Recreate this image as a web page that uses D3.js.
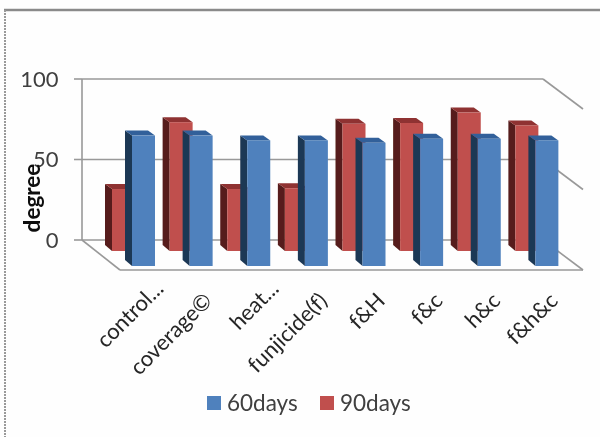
<!DOCTYPE html>
<html><head><meta charset="utf-8">
<script src="https://cdn.jsdelivr.net/npm/d3@7"></script>
<style>html,body{margin:0;padding:0;background:#fff}svg{display:block}text{font-family:Lato,"Open Sans",sans-serif}</style>
</head><body><div id="c"></div>
<script>
const categories = ["control...","coverage©","heat...","funjicide(f)","f&H","f&c","h&c","f&h&c"];
const days60 = [81,81,78,78,76.5,79,79,78];
const days90 = [38.5,80,38.5,39,79,79.5,86,78];
const yTicks = [0,50,100];
const seriesNames = ["60days","90days"];

const W=600,H=437;
const svg=d3.select("#c").append("svg").attr("width",W).attr("height",H);
svg.append("defs").append("filter").attr("id","soft").attr("x","-5%").attr("y","-5%").attr("width","110%").attr("height","110%")
   .append("feGaussianBlur").attr("stdDeviation",0.45);
svg.append("rect").attr("width",W).attr("height",H).attr("fill","#fefefe");
const g=svg.append("g").attr("filter","url(#soft)");
g.append("line").attr("x1",4).attr("x2",W).attr("y1",10).attr("y2",10).attr("stroke","#8a8a8a").attr("stroke-width",2.5);
g.append("line").attr("x1",5).attr("x2",5).attr("y1",10).attr("y2",H).attr("stroke","#9a9a9a").attr("stroke-width",2).attr("stroke-dasharray","2 1");

const x=d3.scaleBand().domain(categories).range([82,543]);
const y=d3.scaleLinear().domain([0,100]).range([240,79]);
const floorDx=40,floorDy=30;
const grid="#999999";
yTicks.forEach(t=>{
  g.append("line").attr("x1",74).attr("x2",82).attr("y1",y(t)).attr("y2",y(t)).attr("stroke",grid).attr("stroke-width",1.6);
  g.append("line").attr("x1",82).attr("x2",x.range()[1]).attr("y1",y(t)).attr("y2",y(t)).attr("stroke",grid).attr("stroke-width",1.6);
  g.append("line").attr("x1",x.range()[1]).attr("x2",x.range()[1]+floorDx).attr("y1",y(t)).attr("y2",y(t)+floorDy).attr("stroke",grid).attr("stroke-width",1.6);
  g.append("text").attr("x",58.5).attr("y",y(t)).attr("dy","0.36em").attr("text-anchor","end").attr("font-size",22).attr("fill","#404040").text(t);
});
g.append("line").attr("x1",82).attr("x2",82).attr("y1",y(0)).attr("y2",y(100)).attr("stroke",grid).attr("stroke-width",1.6);
g.append("line").attr("x1",82).attr("x2",82+floorDx-2).attr("y1",y(0)).attr("y2",y(0)+floorDy).attr("stroke",grid).attr("stroke-width",1.6);
g.append("line").attr("x1",82+floorDx-2).attr("x2",x.range()[1]+floorDx).attr("y1",y(0)+floorDy).attr("y2",y(0)+floorDy).attr("stroke",grid).attr("stroke-width",1.6);

const pxPerUnit=y(0)-y(1);
const dx=7,dy=5,bw=23;
function bars(vals,off,base,cols){
  categories.forEach((c,i)=>{
    const x0=x(c)+off, xf=x0+dx, h=vals[i]*pxPerUnit, top=base-h;
    const bar=g.append("g");
    bar.append("polygon").attr("fill",cols.side).attr("points",[[x0,base-dy-1],[xf,base],[xf,top],[x0,top-dy]].join(" "));
    bar.append("polygon").attr("fill",cols.top).attr("points",[[x0,top-dy],[x0+bw,top-dy],[xf+bw,top],[xf,top]].join(" "));
    bar.append("rect").attr("x",xf).attr("y",top).attr("width",bw).attr("height",h).attr("fill",cols.front);
  });
}
bars(days90,23,251,{front:"#c0504d",side:"#561e1a",top:"#8f3230"});
bars(days60,43,266,{front:"#4f81bd",side:"#1f3855",top:"#31609a"});

categories.forEach(c=>{
  const cut=c.endsWith("...");
  const px=x(c)+x.bandwidth()/2+45+(cut?9:0);
  const py=cut?290:302;
  g.append("text").attr("transform",`translate(${px},${py}) rotate(-45)`).attr("text-anchor","end")
   .attr("font-size",22).attr("fill","#262626").text(c);
});
g.append("text").attr("transform","translate(40,198) rotate(-90)").attr("text-anchor","middle")
 .attr("font-size",22.5).attr("font-weight","bold").attr("fill","#111").text("degree");

const legendX=[207,320],cols=["#4f81bd","#c0504d"];
seriesNames.forEach((s,i)=>{
  g.append("rect").attr("x",legendX[i]).attr("y",396).attr("width",14).attr("height",14).attr("fill",cols[i]);
  g.append("text").attr("x",legendX[i]+20).attr("y",411).attr("font-size",22.5).attr("fill","#404040").text(s);
});
</script></body></html>
